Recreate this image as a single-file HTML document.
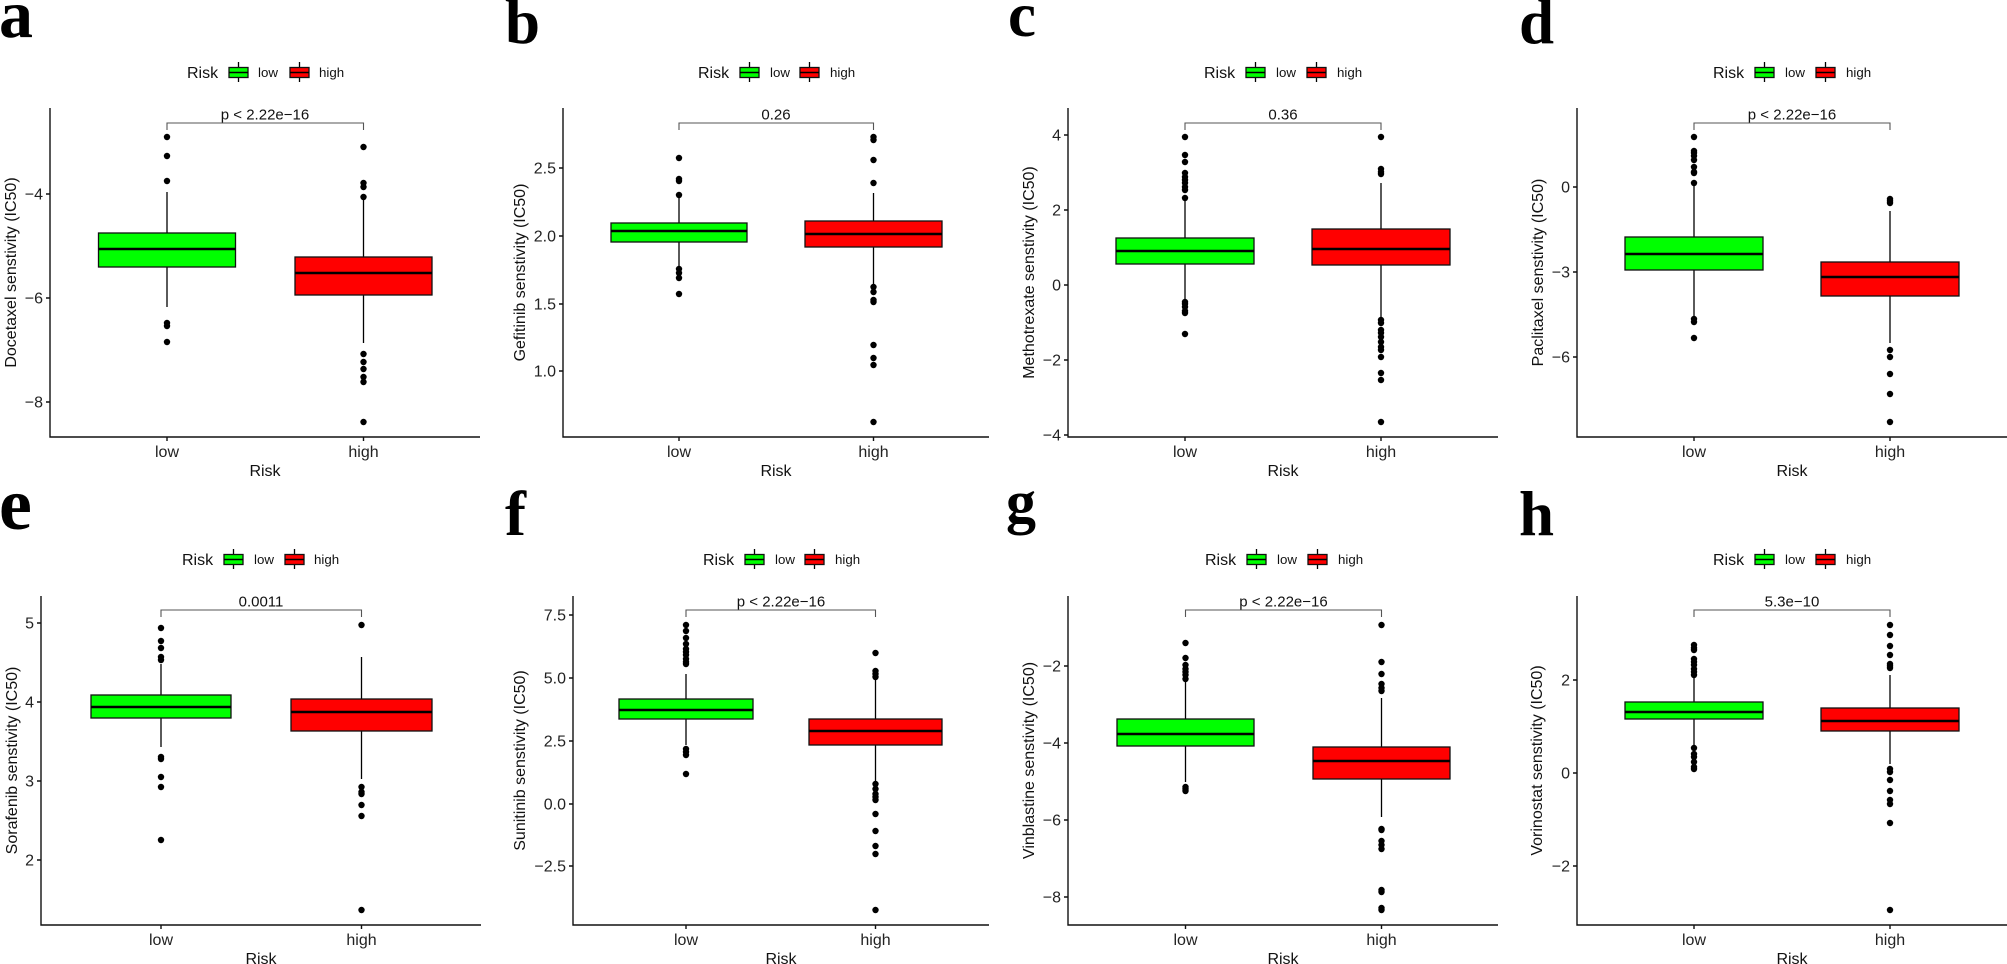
<!DOCTYPE html>
<html><head><meta charset="utf-8">
<style>
html,body{margin:0;padding:0;background:#fff;}
svg{display:block;}
.ax{stroke:#111;stroke-width:1.4;fill:none}
.wk{stroke:#000;stroke-width:1.3}
.bx{stroke:#111;stroke-width:1.3}
.md{stroke:#000;stroke-width:2.6}
.br{stroke:#555;stroke-width:1.1;fill:none}
.tk{font-family:"Liberation Sans",sans-serif;font-size:16px;fill:#222}
.tt{font-family:"Liberation Sans",sans-serif;font-size:16px;fill:#111}
.lg{font-family:"Liberation Sans",sans-serif;font-size:13.3px;fill:#111}
.pv{font-family:"Liberation Sans",sans-serif;font-size:15px;fill:#111}
.pl{font-family:"Liberation Serif",serif;font-weight:bold;fill:#000}
.g{fill:#00FF00}.r{fill:#FF0000}
</style></head><body>
<svg width="2007" height="964" viewBox="0 0 2007 964" xmlns="http://www.w3.org/2000/svg">
<rect width="2007" height="964" fill="#fff"/>

<!-- Panel labels -->
<text class="pl" x="-1" y="37" font-size="68">a</text>
<text class="pl" x="505" y="43" font-size="63">b</text>
<text class="pl" x="1008" y="36" font-size="63">c</text>
<text class="pl" x="1519" y="43" font-size="63">d</text>
<text class="pl" x="-1" y="529" font-size="74">e</text>
<text class="pl" x="505" y="535" font-size="63">f</text>
<text class="pl" x="1006" y="522" font-size="60">g</text>
<text class="pl" x="1519" y="535" font-size="63">h</text>

<!-- Legends row 1 -->
<g>
<text class="tt" x="187" y="78">Risk</text>
<line class="wk" x1="238.5" y1="62" x2="238.5" y2="82"/><rect class="bx g" x="229" y="67.5" width="19" height="10"/><line class="wk" x1="229" y1="72.5" x2="248" y2="72.5" style="stroke-width:1.6"/>
<text class="lg" x="258" y="77">low</text>
<line class="wk" x1="299.5" y1="62" x2="299.5" y2="82"/><rect class="bx r" x="290" y="67.5" width="19" height="10"/><line class="wk" x1="290" y1="72.5" x2="309" y2="72.5" style="stroke-width:1.6"/>
<text class="lg" x="319" y="77">high</text>
</g>
<g>
<text class="tt" x="698" y="78">Risk</text>
<line class="wk" x1="749.5" y1="62" x2="749.5" y2="82"/><rect class="bx g" x="740" y="67.5" width="19" height="10"/><line class="wk" x1="740" y1="72.5" x2="759" y2="72.5" style="stroke-width:1.6"/>
<text class="lg" x="770" y="77">low</text>
<line class="wk" x1="809.5" y1="62" x2="809.5" y2="82"/><rect class="bx r" x="800" y="67.5" width="19" height="10"/><line class="wk" x1="800" y1="72.5" x2="819" y2="72.5" style="stroke-width:1.6"/>
<text class="lg" x="830" y="77">high</text>
</g>
<g>
<text class="tt" x="1204" y="78">Risk</text>
<line class="wk" x1="1255.5" y1="62" x2="1255.5" y2="82"/><rect class="bx g" x="1246" y="67.5" width="19" height="10"/><line class="wk" x1="1246" y1="72.5" x2="1265" y2="72.5" style="stroke-width:1.6"/>
<text class="lg" x="1276" y="77">low</text>
<line class="wk" x1="1316.5" y1="62" x2="1316.5" y2="82"/><rect class="bx r" x="1307" y="67.5" width="19" height="10"/><line class="wk" x1="1307" y1="72.5" x2="1326" y2="72.5" style="stroke-width:1.6"/>
<text class="lg" x="1337" y="77">high</text>
</g>
<g>
<text class="tt" x="1713" y="78">Risk</text>
<line class="wk" x1="1764.5" y1="62" x2="1764.5" y2="82"/><rect class="bx g" x="1755" y="67.5" width="19" height="10"/><line class="wk" x1="1755" y1="72.5" x2="1774" y2="72.5" style="stroke-width:1.6"/>
<text class="lg" x="1785" y="77">low</text>
<line class="wk" x1="1825.5" y1="62" x2="1825.5" y2="82"/><rect class="bx r" x="1816" y="67.5" width="19" height="10"/><line class="wk" x1="1816" y1="72.5" x2="1835" y2="72.5" style="stroke-width:1.6"/>
<text class="lg" x="1846" y="77">high</text>
</g>
<!-- Legends row 2 -->
<g>
<text class="tt" x="182" y="565">Risk</text>
<line class="wk" x1="233.5" y1="549" x2="233.5" y2="569"/><rect class="bx g" x="224" y="554.5" width="19" height="10"/><line class="wk" x1="224" y1="559.5" x2="243" y2="559.5" style="stroke-width:1.6"/>
<text class="lg" x="254" y="564">low</text>
<line class="wk" x1="294.5" y1="549" x2="294.5" y2="569"/><rect class="bx r" x="285" y="554.5" width="19" height="10"/><line class="wk" x1="285" y1="559.5" x2="304" y2="559.5" style="stroke-width:1.6"/>
<text class="lg" x="314" y="564">high</text>
</g>
<g>
<text class="tt" x="703" y="565">Risk</text>
<line class="wk" x1="754.5" y1="549" x2="754.5" y2="569"/><rect class="bx g" x="745" y="554.5" width="19" height="10"/><line class="wk" x1="745" y1="559.5" x2="764" y2="559.5" style="stroke-width:1.6"/>
<text class="lg" x="775" y="564">low</text>
<line class="wk" x1="814.5" y1="549" x2="814.5" y2="569"/><rect class="bx r" x="805" y="554.5" width="19" height="10"/><line class="wk" x1="805" y1="559.5" x2="824" y2="559.5" style="stroke-width:1.6"/>
<text class="lg" x="835" y="564">high</text>
</g>
<g>
<text class="tt" x="1205" y="565">Risk</text>
<line class="wk" x1="1256.5" y1="549" x2="1256.5" y2="569"/><rect class="bx g" x="1247" y="554.5" width="19" height="10"/><line class="wk" x1="1247" y1="559.5" x2="1266" y2="559.5" style="stroke-width:1.6"/>
<text class="lg" x="1277" y="564">low</text>
<line class="wk" x1="1317.5" y1="549" x2="1317.5" y2="569"/><rect class="bx r" x="1308" y="554.5" width="19" height="10"/><line class="wk" x1="1308" y1="559.5" x2="1327" y2="559.5" style="stroke-width:1.6"/>
<text class="lg" x="1338" y="564">high</text>
</g>
<g>
<text class="tt" x="1713" y="565">Risk</text>
<line class="wk" x1="1764.5" y1="549" x2="1764.5" y2="569"/><rect class="bx g" x="1755" y="554.5" width="19" height="10"/><line class="wk" x1="1755" y1="559.5" x2="1774" y2="559.5" style="stroke-width:1.6"/>
<text class="lg" x="1785" y="564">low</text>
<line class="wk" x1="1825.5" y1="549" x2="1825.5" y2="569"/><rect class="bx r" x="1816" y="554.5" width="19" height="10"/><line class="wk" x1="1816" y1="559.5" x2="1835" y2="559.5" style="stroke-width:1.6"/>
<text class="lg" x="1846" y="564">high</text>
</g>

<!-- ================= Panel a ================= -->
<g>
<path class="br" d="M167 130V123H363.5V130"/>
<text class="pv" x="265" y="119.5" text-anchor="middle">p &lt; 2.22e−16</text>
<line class="wk" x1="167" y1="192" x2="167" y2="233"/><line class="wk" x1="167" y1="267" x2="167" y2="307"/>
<rect class="bx g" x="98.5" y="233" width="137" height="34"/><line class="md" x1="98.5" y1="249" x2="235.5" y2="249"/>
<line class="wk" x1="363.5" y1="199" x2="363.5" y2="257"/><line class="wk" x1="363.5" y1="295" x2="363.5" y2="343"/>
<rect class="bx r" x="295" y="257" width="137" height="38"/><line class="md" x1="295" y1="273" x2="432" y2="273"/>
<g fill="#000">
<circle cx="167" cy="137" r="3.2"/><circle cx="167" cy="156" r="3.2"/><circle cx="167" cy="181" r="3.2"/><circle cx="167" cy="323" r="3.2"/><circle cx="167" cy="326" r="3.2"/><circle cx="167" cy="342" r="3.2"/>
<circle cx="363.5" cy="147" r="3.2"/><circle cx="363.5" cy="183" r="3.2"/><circle cx="363.5" cy="187" r="3.2"/><circle cx="363.5" cy="197" r="3.2"/><circle cx="363.5" cy="354" r="3.2"/><circle cx="363.5" cy="362" r="3.2"/><circle cx="363.5" cy="369" r="3.2"/><circle cx="363.5" cy="377" r="3.2"/><circle cx="363.5" cy="382" r="3.2"/><circle cx="363.5" cy="422" r="3.2"/>
</g>
<path class="ax" d="M50 108V437H480"/>
<path class="ax" d="M46 194H50M46 298H50M46 402H50M167 437V441M363.5 437V441"/>
<text class="tk" x="43" y="199.5" text-anchor="end">−4</text>
<text class="tk" x="43" y="303.5" text-anchor="end">−6</text>
<text class="tk" x="43" y="407.5" text-anchor="end">−8</text>
<text class="tk" x="167" y="457" text-anchor="middle">low</text>
<text class="tk" x="363.5" y="457" text-anchor="middle">high</text>
<text class="tt" x="265" y="476" text-anchor="middle">Risk</text>
<text class="tt" transform="translate(16 272.5) rotate(-90)" text-anchor="middle">Docetaxel senstivity (IC50)</text>
</g>

<!-- ================= Panel b ================= -->
<g>
<path class="br" d="M679 130V123H873.5V130"/>
<text class="pv" x="776" y="119.5" text-anchor="middle">0.26</text>
<line class="wk" x1="679" y1="195" x2="679" y2="223"/><line class="wk" x1="679" y1="242" x2="679" y2="270"/>
<rect class="bx g" x="611" y="223" width="136" height="19"/><line class="md" x1="611" y1="231" x2="747" y2="231"/>
<line class="wk" x1="873.5" y1="193" x2="873.5" y2="221"/><line class="wk" x1="873.5" y1="247" x2="873.5" y2="287"/>
<rect class="bx r" x="805" y="221" width="137" height="26"/><line class="md" x1="805" y1="234" x2="942" y2="234"/>
<g fill="#000">
<circle cx="679" cy="158" r="3.2"/><circle cx="679" cy="179" r="3.2"/><circle cx="679" cy="181" r="3.2"/><circle cx="679" cy="195" r="3.2"/><circle cx="679" cy="269" r="3.2"/><circle cx="679" cy="273" r="3.2"/><circle cx="679" cy="278" r="3.2"/><circle cx="679" cy="294" r="3.2"/>
<circle cx="873.5" cy="137" r="3.2"/><circle cx="873.5" cy="140" r="3.2"/><circle cx="873.5" cy="160" r="3.2"/><circle cx="873.5" cy="183" r="3.2"/><circle cx="873.5" cy="287" r="3.2"/><circle cx="873.5" cy="292" r="3.2"/><circle cx="873.5" cy="300" r="3.2"/><circle cx="873.5" cy="302" r="3.2"/><circle cx="873.5" cy="345" r="3.2"/><circle cx="873.5" cy="358" r="3.2"/><circle cx="873.5" cy="365" r="3.2"/><circle cx="873.5" cy="422" r="3.2"/>
</g>
<path class="ax" d="M563 108V437H989"/>
<path class="ax" d="M559 168H563M559 236H563M559 304H563M559 371H563M679 437V441M873.5 437V441"/>
<text class="tk" x="556" y="173.5" text-anchor="end">2.5</text>
<text class="tk" x="556" y="241.5" text-anchor="end">2.0</text>
<text class="tk" x="556" y="309.5" text-anchor="end">1.5</text>
<text class="tk" x="556" y="376.5" text-anchor="end">1.0</text>
<text class="tk" x="679" y="457" text-anchor="middle">low</text>
<text class="tk" x="873.5" y="457" text-anchor="middle">high</text>
<text class="tt" x="776" y="476" text-anchor="middle">Risk</text>
<text class="tt" transform="translate(525 272.5) rotate(-90)" text-anchor="middle">Gefitinib senstivity (IC50)</text>
</g>

<!-- ================= Panel c ================= -->
<g>
<path class="br" d="M1185 130V123H1381V130"/>
<text class="pv" x="1283" y="119.5" text-anchor="middle">0.36</text>
<line class="wk" x1="1185" y1="198" x2="1185" y2="238"/><line class="wk" x1="1185" y1="264" x2="1185" y2="302"/>
<rect class="bx g" x="1116" y="238" width="138" height="26"/><line class="md" x1="1116" y1="251" x2="1254" y2="251"/>
<line class="wk" x1="1381" y1="183" x2="1381" y2="229"/><line class="wk" x1="1381" y1="265" x2="1381" y2="318"/>
<rect class="bx r" x="1312" y="229" width="138" height="36"/><line class="md" x1="1312" y1="249" x2="1450" y2="249"/>
<g fill="#000">
<circle cx="1185" cy="137" r="3.2"/><circle cx="1185" cy="155" r="3.2"/><circle cx="1185" cy="162" r="3.2"/><circle cx="1185" cy="173" r="3.2"/><circle cx="1185" cy="177" r="3.2"/><circle cx="1185" cy="180" r="3.2"/><circle cx="1185" cy="183" r="3.2"/><circle cx="1185" cy="187" r="3.2"/><circle cx="1185" cy="190" r="3.2"/><circle cx="1185" cy="198" r="3.2"/><circle cx="1185" cy="302" r="3.2"/><circle cx="1185" cy="304" r="3.2"/><circle cx="1185" cy="307" r="3.2"/><circle cx="1185" cy="311" r="3.2"/><circle cx="1185" cy="313" r="3.2"/><circle cx="1185" cy="334" r="3.2"/>
<circle cx="1381" cy="137" r="3.2"/><circle cx="1381" cy="169" r="3.2"/><circle cx="1381" cy="172" r="3.2"/><circle cx="1381" cy="174" r="3.2"/><circle cx="1381" cy="320" r="3.2"/><circle cx="1381" cy="323" r="3.2"/><circle cx="1381" cy="330" r="3.2"/><circle cx="1381" cy="333" r="3.2"/><circle cx="1381" cy="337" r="3.2"/><circle cx="1381" cy="342" r="3.2"/><circle cx="1381" cy="347" r="3.2"/><circle cx="1381" cy="350" r="3.2"/><circle cx="1381" cy="357" r="3.2"/><circle cx="1381" cy="373" r="3.2"/><circle cx="1381" cy="380" r="3.2"/><circle cx="1381" cy="422" r="3.2"/>
</g>
<path class="ax" d="M1068 108V437H1498"/>
<path class="ax" d="M1064 135H1068M1064 210H1068M1064 285H1068M1064 360H1068M1064 435H1068M1185 437V441M1381 437V441"/>
<text class="tk" x="1061" y="140.5" text-anchor="end">4</text>
<text class="tk" x="1061" y="215.5" text-anchor="end">2</text>
<text class="tk" x="1061" y="290.5" text-anchor="end">0</text>
<text class="tk" x="1061" y="365.5" text-anchor="end">−2</text>
<text class="tk" x="1061" y="440.5" text-anchor="end">−4</text>
<text class="tk" x="1185" y="457" text-anchor="middle">low</text>
<text class="tk" x="1381" y="457" text-anchor="middle">high</text>
<text class="tt" x="1283" y="476" text-anchor="middle">Risk</text>
<text class="tt" transform="translate(1034 272.5) rotate(-90)" text-anchor="middle">Methotrexate senstivity (IC50)</text>
</g>

<!-- ================= Panel d ================= -->
<g>
<path class="br" d="M1694 130V123H1890V130"/>
<text class="pv" x="1792" y="119.5" text-anchor="middle">p &lt; 2.22e−16</text>
<line class="wk" x1="1694" y1="183" x2="1694" y2="237"/><line class="wk" x1="1694" y1="270" x2="1694" y2="318"/>
<rect class="bx g" x="1625" y="237" width="138" height="33"/><line class="md" x1="1625" y1="254" x2="1763" y2="254"/>
<line class="wk" x1="1890" y1="211" x2="1890" y2="262"/><line class="wk" x1="1890" y1="296" x2="1890" y2="343"/>
<rect class="bx r" x="1821" y="262" width="138" height="34"/><line class="md" x1="1821" y1="277" x2="1959" y2="277"/>
<g fill="#000">
<circle cx="1694" cy="137" r="3.2"/><circle cx="1694" cy="151" r="3.2"/><circle cx="1694" cy="153" r="3.2"/><circle cx="1694" cy="156" r="3.2"/><circle cx="1694" cy="160" r="3.2"/><circle cx="1694" cy="167" r="3.2"/><circle cx="1694" cy="172" r="3.2"/><circle cx="1694" cy="173" r="3.2"/><circle cx="1694" cy="183" r="3.2"/><circle cx="1694" cy="319" r="3.2"/><circle cx="1694" cy="322" r="3.2"/><circle cx="1694" cy="338" r="3.2"/>
<circle cx="1890" cy="199" r="3.2"/><circle cx="1890" cy="201" r="3.2"/><circle cx="1890" cy="203" r="3.2"/><circle cx="1890" cy="350" r="3.2"/><circle cx="1890" cy="357" r="3.2"/><circle cx="1890" cy="374" r="3.2"/><circle cx="1890" cy="394" r="3.2"/><circle cx="1890" cy="422" r="3.2"/>
</g>
<path class="ax" d="M1577 108V437H2007"/>
<path class="ax" d="M1573 187H1577M1573 272H1577M1573 357H1577M1694 437V441M1890 437V441"/>
<text class="tk" x="1570" y="192.5" text-anchor="end">0</text>
<text class="tk" x="1570" y="277.5" text-anchor="end">−3</text>
<text class="tk" x="1570" y="362.5" text-anchor="end">−6</text>
<text class="tk" x="1694" y="457" text-anchor="middle">low</text>
<text class="tk" x="1890" y="457" text-anchor="middle">high</text>
<text class="tt" x="1792" y="476" text-anchor="middle">Risk</text>
<text class="tt" transform="translate(1543 272.5) rotate(-90)" text-anchor="middle">Paclitaxel senstivity (IC50)</text>
</g>

<!-- ================= Panel e ================= -->
<g>
<path class="br" d="M161 617V610H361.5V617"/>
<text class="pv" x="261" y="606.5" text-anchor="middle">0.0011</text>
<line class="wk" x1="161" y1="664" x2="161" y2="695"/><line class="wk" x1="161" y1="718" x2="161" y2="747"/>
<rect class="bx g" x="91" y="695" width="140" height="23"/><line class="md" x1="91" y1="707" x2="231" y2="707"/>
<line class="wk" x1="361.5" y1="657" x2="361.5" y2="699"/><line class="wk" x1="361.5" y1="731" x2="361.5" y2="779"/>
<rect class="bx r" x="291" y="699" width="141" height="32"/><line class="md" x1="291" y1="712" x2="432" y2="712"/>
<g fill="#000">
<circle cx="161" cy="628" r="3.2"/><circle cx="161" cy="641" r="3.2"/><circle cx="161" cy="648" r="3.2"/><circle cx="161" cy="657" r="3.2"/><circle cx="161" cy="660" r="3.2"/><circle cx="161" cy="757" r="3.2"/><circle cx="161" cy="759" r="3.2"/><circle cx="161" cy="777" r="3.2"/><circle cx="161" cy="787" r="3.2"/><circle cx="161" cy="840" r="3.2"/>
<circle cx="361.5" cy="625" r="3.2"/><circle cx="361.5" cy="787" r="3.2"/><circle cx="361.5" cy="792" r="3.2"/><circle cx="361.5" cy="794" r="3.2"/><circle cx="361.5" cy="805" r="3.2"/><circle cx="361.5" cy="816" r="3.2"/><circle cx="361.5" cy="910" r="3.2"/>
</g>
<path class="ax" d="M41 596V925H481"/>
<path class="ax" d="M37 623H41M37 702H41M37 781H41M37 860H41M161 925V929M361.5 925V929"/>
<text class="tk" x="34" y="628.5" text-anchor="end">5</text>
<text class="tk" x="34" y="707.5" text-anchor="end">4</text>
<text class="tk" x="34" y="786.5" text-anchor="end">3</text>
<text class="tk" x="34" y="865.5" text-anchor="end">2</text>
<text class="tk" x="161" y="945" text-anchor="middle">low</text>
<text class="tk" x="361.5" y="945" text-anchor="middle">high</text>
<text class="tt" x="261" y="964" text-anchor="middle">Risk</text>
<text class="tt" transform="translate(17 760.5) rotate(-90)" text-anchor="middle">Sorafenib senstivity (IC50)</text>
</g>

<!-- ================= Panel f ================= -->
<g>
<path class="br" d="M686 617V610H875.5V617"/>
<text class="pv" x="781" y="606.5" text-anchor="middle">p &lt; 2.22e−16</text>
<line class="wk" x1="686" y1="674" x2="686" y2="699"/><line class="wk" x1="686" y1="719" x2="686" y2="745"/>
<rect class="bx g" x="619" y="699" width="134" height="20"/><line class="md" x1="619" y1="710" x2="753" y2="710"/>
<line class="wk" x1="875.5" y1="679" x2="875.5" y2="719"/><line class="wk" x1="875.5" y1="745" x2="875.5" y2="782"/>
<rect class="bx r" x="809" y="719" width="133" height="26"/><line class="md" x1="809" y1="731" x2="942" y2="731"/>
<g fill="#000">
<circle cx="686" cy="625" r="3.2"/><circle cx="686" cy="631" r="3.2"/><circle cx="686" cy="638" r="3.2"/><circle cx="686" cy="644" r="3.2"/><circle cx="686" cy="649" r="3.2"/><circle cx="686" cy="652" r="3.2"/><circle cx="686" cy="655" r="3.2"/><circle cx="686" cy="659" r="3.2"/><circle cx="686" cy="662" r="3.2"/><circle cx="686" cy="664" r="3.2"/><circle cx="686" cy="749" r="3.2"/><circle cx="686" cy="752" r="3.2"/><circle cx="686" cy="755" r="3.2"/><circle cx="686" cy="774" r="3.2"/>
<circle cx="875.5" cy="653" r="3.2"/><circle cx="875.5" cy="671" r="3.2"/><circle cx="875.5" cy="674" r="3.2"/><circle cx="875.5" cy="677" r="3.2"/><circle cx="875.5" cy="784" r="3.2"/><circle cx="875.5" cy="789" r="3.2"/><circle cx="875.5" cy="794" r="3.2"/><circle cx="875.5" cy="797" r="3.2"/><circle cx="875.5" cy="800" r="3.2"/><circle cx="875.5" cy="814" r="3.2"/><circle cx="875.5" cy="831" r="3.2"/><circle cx="875.5" cy="846" r="3.2"/><circle cx="875.5" cy="854" r="3.2"/><circle cx="875.5" cy="910" r="3.2"/>
</g>
<path class="ax" d="M573 596V925H989"/>
<path class="ax" d="M569 615H573M569 678H573M569 741H573M569 804H573M569 866H573M686 925V929M875.5 925V929"/>
<text class="tk" x="566" y="620.5" text-anchor="end">7.5</text>
<text class="tk" x="566" y="683.5" text-anchor="end">5.0</text>
<text class="tk" x="566" y="746.5" text-anchor="end">2.5</text>
<text class="tk" x="566" y="809.5" text-anchor="end">0.0</text>
<text class="tk" x="566" y="871.5" text-anchor="end">−2.5</text>
<text class="tk" x="686" y="945" text-anchor="middle">low</text>
<text class="tk" x="875.5" y="945" text-anchor="middle">high</text>
<text class="tt" x="781" y="964" text-anchor="middle">Risk</text>
<text class="tt" transform="translate(525 760.5) rotate(-90)" text-anchor="middle">Sunitinib senstivity (IC50)</text>
</g>

<!-- ================= Panel g ================= -->
<g>
<path class="br" d="M1185.5 617V610H1381.5V617"/>
<text class="pv" x="1283.5" y="606.5" text-anchor="middle">p &lt; 2.22e−16</text>
<line class="wk" x1="1185.5" y1="680" x2="1185.5" y2="719"/><line class="wk" x1="1185.5" y1="746" x2="1185.5" y2="782"/>
<rect class="bx g" x="1117" y="719" width="137" height="27"/><line class="md" x1="1117" y1="734" x2="1254" y2="734"/>
<line class="wk" x1="1381.5" y1="698" x2="1381.5" y2="747"/><line class="wk" x1="1381.5" y1="779" x2="1381.5" y2="817"/>
<rect class="bx r" x="1313" y="747" width="137" height="32"/><line class="md" x1="1313" y1="761" x2="1450" y2="761"/>
<g fill="#000">
<circle cx="1185.5" cy="643" r="3.2"/><circle cx="1185.5" cy="658" r="3.2"/><circle cx="1185.5" cy="665" r="3.2"/><circle cx="1185.5" cy="669" r="3.2"/><circle cx="1185.5" cy="672" r="3.2"/><circle cx="1185.5" cy="675" r="3.2"/><circle cx="1185.5" cy="679" r="3.2"/><circle cx="1185.5" cy="787" r="3.2"/><circle cx="1185.5" cy="789" r="3.2"/><circle cx="1185.5" cy="791" r="3.2"/>
<circle cx="1381.5" cy="625" r="3.2"/><circle cx="1381.5" cy="662" r="3.2"/><circle cx="1381.5" cy="674" r="3.2"/><circle cx="1381.5" cy="684" r="3.2"/><circle cx="1381.5" cy="688" r="3.2"/><circle cx="1381.5" cy="691" r="3.2"/><circle cx="1381.5" cy="829" r="3.2"/><circle cx="1381.5" cy="830" r="3.2"/><circle cx="1381.5" cy="841" r="3.2"/><circle cx="1381.5" cy="845" r="3.2"/><circle cx="1381.5" cy="849" r="3.2"/><circle cx="1381.5" cy="890" r="3.2"/><circle cx="1381.5" cy="892" r="3.2"/><circle cx="1381.5" cy="908" r="3.2"/><circle cx="1381.5" cy="910" r="3.2"/>
</g>
<path class="ax" d="M1068 596V925H1498"/>
<path class="ax" d="M1064 666H1068M1064 743H1068M1064 820H1068M1064 897H1068M1185.5 925V929M1381.5 925V929"/>
<text class="tk" x="1061" y="671.5" text-anchor="end">−2</text>
<text class="tk" x="1061" y="748.5" text-anchor="end">−4</text>
<text class="tk" x="1061" y="825.5" text-anchor="end">−6</text>
<text class="tk" x="1061" y="902.5" text-anchor="end">−8</text>
<text class="tk" x="1185.5" y="945" text-anchor="middle">low</text>
<text class="tk" x="1381.5" y="945" text-anchor="middle">high</text>
<text class="tt" x="1283" y="964" text-anchor="middle">Risk</text>
<text class="tt" transform="translate(1034 760.5) rotate(-90)" text-anchor="middle">Vinblastine senstivity (IC50)</text>
</g>

<!-- ================= Panel h ================= -->
<g>
<path class="br" d="M1694 617V610H1890V617"/>
<text class="pv" x="1792" y="606.5" text-anchor="middle">5.3e−10</text>
<line class="wk" x1="1694" y1="677" x2="1694" y2="702"/><line class="wk" x1="1694" y1="719" x2="1694" y2="745"/>
<rect class="bx g" x="1625" y="702" width="138" height="17"/><line class="md" x1="1625" y1="712" x2="1763" y2="712"/>
<line class="wk" x1="1890" y1="675" x2="1890" y2="708"/><line class="wk" x1="1890" y1="731" x2="1890" y2="764"/>
<rect class="bx r" x="1821" y="708" width="138" height="23"/><line class="md" x1="1821" y1="721" x2="1959" y2="721"/>
<g fill="#000">
<circle cx="1694" cy="645" r="3.2"/><circle cx="1694" cy="648" r="3.2"/><circle cx="1694" cy="650" r="3.2"/><circle cx="1694" cy="659" r="3.2"/><circle cx="1694" cy="662" r="3.2"/><circle cx="1694" cy="665" r="3.2"/><circle cx="1694" cy="669" r="3.2"/><circle cx="1694" cy="672" r="3.2"/><circle cx="1694" cy="675" r="3.2"/><circle cx="1694" cy="748" r="3.2"/><circle cx="1694" cy="754" r="3.2"/><circle cx="1694" cy="757" r="3.2"/><circle cx="1694" cy="762" r="3.2"/><circle cx="1694" cy="767" r="3.2"/><circle cx="1694" cy="769" r="3.2"/>
<circle cx="1890" cy="625" r="3.2"/><circle cx="1890" cy="635" r="3.2"/><circle cx="1890" cy="646" r="3.2"/><circle cx="1890" cy="655" r="3.2"/><circle cx="1890" cy="664" r="3.2"/><circle cx="1890" cy="666" r="3.2"/><circle cx="1890" cy="668" r="3.2"/><circle cx="1890" cy="769" r="3.2"/><circle cx="1890" cy="772" r="3.2"/><circle cx="1890" cy="780" r="3.2"/><circle cx="1890" cy="791" r="3.2"/><circle cx="1890" cy="800" r="3.2"/><circle cx="1890" cy="804" r="3.2"/><circle cx="1890" cy="823" r="3.2"/><circle cx="1890" cy="910" r="3.2"/>
</g>
<path class="ax" d="M1577 596V925H2007"/>
<path class="ax" d="M1573 680H1577M1573 773H1577M1573 866H1577M1694 925V929M1890 925V929"/>
<text class="tk" x="1570" y="685.5" text-anchor="end">2</text>
<text class="tk" x="1570" y="778.5" text-anchor="end">0</text>
<text class="tk" x="1570" y="871.5" text-anchor="end">−2</text>
<text class="tk" x="1694" y="945" text-anchor="middle">low</text>
<text class="tk" x="1890" y="945" text-anchor="middle">high</text>
<text class="tt" x="1792" y="964" text-anchor="middle">Risk</text>
<text class="tt" transform="translate(1542 760.5) rotate(-90)" text-anchor="middle">Vorinostat senstivity (IC50)</text>
</g>
</svg>
</body></html>
